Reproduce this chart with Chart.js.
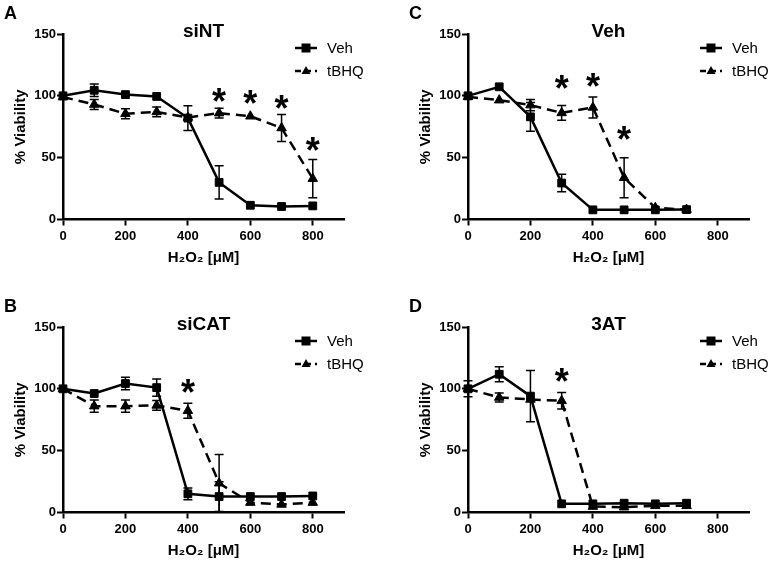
<!DOCTYPE html>
<html>
<head>
<meta charset="utf-8">
<script src="https://cdn.jsdelivr.net/npm/chart.js@4.4.0/dist/chart.umd.min.js"></script>
<style>
  html, body { margin: 0; padding: 0; background: #fff; overflow: hidden; }
  body { width: 771px; height: 564px; position: relative; }
  .panel { position: absolute; width: 366px; height: 282px; }
</style>
</head>
<body>
<div class="panel" style="left:0;top:0"><canvas id="chartA" width="366" height="282"></canvas></div>
<div class="panel" style="left:405px;top:0"><canvas id="chartC" width="366" height="282"></canvas></div>
<div class="panel" style="left:0;top:293px"><canvas id="chartB" width="366" height="282"></canvas></div>
<div class="panel" style="left:405px;top:293px"><canvas id="chartD" width="366" height="282"></canvas></div>
<script>
// axis ticks
const xTicks = [0, 200, 400, 600, 800];
const yTicks = [0, 50, 100, 150];

// A - siNT
const dosesA = [0, 100, 200, 300, 400, 500, 600, 700, 800];
const vehA = [100, 104.5, 101, 99.5, 82, 30, 11.5, 10.5, 11];
const vehErrA = [0, 5, 0, 0, 10, 13.5, 0, 0, 0];
const tbhqA = [99, 93, 85.5, 87, 82.5, 86, 83.5, 74, 33];
const tbhqErrA = [0, 4, 4, 4, 0, 4, 0, 11, 15.5];
const starXA = [500, 600, 700, 800];
const starYA = [101, 99, 95, 61];

// C - Veh
const dosesC = [0, 100, 200, 300, 400, 500, 600, 700];
const vehC = [100, 107.3, 83, 29.5, 7.8, 7.8, 7.8, 8];
const vehErrC = [0, 0, 11.7, 7, 0, 0, 0, 0];
const tbhqC = [99.2, 96.5, 92.5, 86.2, 90.6, 33.8, 9.5, 8];
const tbhqErrC = [0, 0, 4.5, 6, 8.5, 16.2, 0, 0];
const starXC = [300, 400, 500];
const starYC = [111.3, 112.7, 70.3];

// B - siCAT
const dosesB = [0, 100, 200, 300, 400, 500, 600, 700, 800];
const vehB = [100, 96.2, 104.3, 101, 15.1, 12.9, 12.9, 12.9, 13.4];
const vehErrB = [0, 0, 5, 7, 4.7, 12, 0, 0, 0];
const tbhqB = [100, 86, 86, 86.6, 82.3, 23.7, 8, 6.5, 8];
const tbhqErrB = [0, 5, 5, 4, 6, 23.3, 0, 0, 0];
const starXB = [400];
const starYB = [102];

// D - 3AT
const dosesD = [0, 100, 200, 300, 400, 500, 600, 700];
const vehD = [100, 111.8, 94.1, 7, 7, 7.5, 7, 7.5];
const vehErrD = [6.5, 6, 20.8, 0, 0, 0, 0, 0];
const tbhqD = [100, 93, 91.4, 90.3, 4.8, 4.3, 5.4, 5.4];
const tbhqErrD = [0, 3.7, 0, 6.7, 0, 0, 0, 0];
const starXD = [300];
const starYD = [111];

Chart.defaults.font.family = '"Liberation Sans", Arial, sans-serif';
Chart.defaults.color = '#000';

// error bars, from dataset.errors
const errorBars = {
  id: 'errorBars',
  afterDatasetsDraw(chart) {
    const ctx = chart.ctx, ys = chart.scales.y, xs = chart.scales.x;
    ctx.save();
    ctx.strokeStyle = '#000';
    ctx.lineWidth = 1.5;
    chart.data.datasets.forEach((ds) => {
      ds.data.forEach((p, i) => {
        const e = ds.errors[i];
        if (!e) return;
        const x = xs.getPixelForValue(p.x);
        const y1 = ys.getPixelForValue(p.y + e);
        const y2 = ys.getPixelForValue(p.y - e);
        ctx.beginPath();
        ctx.moveTo(x, y1); ctx.lineTo(x, y2);
        ctx.moveTo(x - 4.5, y1); ctx.lineTo(x + 4.5, y1);
        ctx.moveTo(x - 4.5, y2); ctx.lineTo(x + 4.5, y2);
        ctx.stroke();
      });
    });
    ctx.restore();
  }
};

// panel letter, title, stars, legend
const decor = {
  id: 'decor',
  afterDraw(chart, args, opts) {
    const ctx = chart.ctx, a = chart.chartArea;
    const xs = chart.scales.x, ys = chart.scales.y;
    ctx.save();
    ctx.fillStyle = '#000';
    ctx.strokeStyle = '#000';

    ctx.font = 'bold 18px "Liberation Sans", Arial, sans-serif';
    ctx.textAlign = 'left';
    ctx.textBaseline = 'alphabetic';
    ctx.fillText(opts.letter, 4, 19);

    ctx.font = 'bold 19px "Liberation Sans", Arial, sans-serif';
    ctx.textAlign = 'center';
    ctx.fillText(opts.title, (a.left + a.right) / 2, a.top + 3);

    // stars
    ctx.font = 'bold 36px "Liberation Sans", Arial, sans-serif';
    const m = ctx.measureText('*');
    const off = (m.actualBoundingBoxAscent - m.actualBoundingBoxDescent) / 2;
    opts.starX.forEach((sx, i) => {
      ctx.fillText('*', xs.getPixelForValue(sx), ys.getPixelForValue(opts.starY[i]) + off);
    });

    // legend
    ctx.font = '15px "Liberation Sans", Arial, sans-serif';
    ctx.textAlign = 'left';
    ctx.textBaseline = 'middle';
    chart.data.datasets.forEach((ds, i) => {
      const y = a.top + 14 + i * 23;
      const x0 = a.right - 49, x1 = a.right - 27, cx = (x0 + x1) / 2;
      ctx.lineWidth = 2.5;
      ctx.setLineDash(ds.borderDash ? [6, 4] : []);
      ctx.beginPath();
      ctx.moveTo(x0, y); ctx.lineTo(x1, y);
      ctx.stroke();
      ctx.setLineDash([]);
      ctx.beginPath();
      if (ds.pointStyle === 'rect') {
        ctx.rect(cx - 4.5, y - 4.5, 9, 9);
      } else {
        ctx.moveTo(cx, y - 5);
        ctx.lineTo(cx + 4.5, y + 3);
        ctx.lineTo(cx - 4.5, y + 3);
        ctx.closePath();
      }
      ctx.fill();
      ctx.fillText(ds.label, a.right - 17, y + 1);
    });
    ctx.restore();
  }
};

function makeData(doses, veh, vehErr, tbhq, tbhqErr) {
  return {
    datasets: [
      {
        label: 'Veh',
        data: doses.map((d, i) => ({x: d, y: veh[i]})),
        errors: vehErr,
        borderColor: '#000', backgroundColor: '#000',
        borderWidth: 2.5,
        pointStyle: 'rect', pointRadius: 5.5, pointBorderWidth: 1,
        tension: 0, clip: false
      },
      {
        label: 'tBHQ',
        data: doses.map((d, i) => ({x: d, y: tbhq[i]})),
        errors: tbhqErr,
        borderColor: '#000', backgroundColor: '#000',
        borderWidth: 2.5, borderDash: [10, 6],
        pointStyle: 'triangle', pointRadius: 5.5, pointBorderWidth: 1,
        tension: 0, clip: false
      }
    ]
  };
}

function makeChart(id, data, letter, title, starX, starY) {
  return new Chart(document.getElementById(id), {
    type: 'line',
    data: data,
    plugins: [errorBars, decor],
    options: {
      responsive: false,
      animation: false,
      events: [],
      layout: {padding: {top: 34, right: 22, left: 0, bottom: 0}},
      plugins: {
        legend: {display: false},
        tooltip: {enabled: false},
        decor: {letter: letter, title: title, starX: starX, starY: starY}
      },
      scales: {
        x: {
          type: 'linear', min: 0, max: 900,
          afterBuildTicks: (s) => { s.ticks = xTicks.map(v => ({value: v})); },
          afterFit: (s) => { s.height = 282 - 219.5; },
          grid: {drawOnChartArea: false, tickLength: 6, tickWidth: 2, tickColor: '#000'},
          border: {color: '#000', width: 2.5},
          ticks: {color: '#000', font: {size: 13, weight: 'bold'}, padding: 3, maxRotation: 0},
          title: {display: true, text: 'H₂O₂ [μM]', color: '#000',
                  font: {size: 15, weight: 'bold'}, padding: {top: 0, bottom: 15}}
        },
        y: {
          min: 0, max: 150,
          afterBuildTicks: (s) => { s.ticks = yTicks.map(v => ({value: v})); },
          afterFit: (s) => { s.width = 63; },
          grid: {drawOnChartArea: false, tickLength: 6, tickWidth: 2, tickColor: '#000'},
          border: {color: '#000', width: 2.5},
          ticks: {color: '#000', font: {size: 13, weight: 'bold'}, padding: 1},
          title: {display: true, text: '% Viability', color: '#000',
                  font: {size: 15, weight: 'bold'}, padding: {top: 12, bottom: 0}}
        }
      }
    }
  });
}

makeChart('chartA', makeData(dosesA, vehA, vehErrA, tbhqA, tbhqErrA), 'A', 'siNT', starXA, starYA);
makeChart('chartC', makeData(dosesC, vehC, vehErrC, tbhqC, tbhqErrC), 'C', 'Veh', starXC, starYC);
makeChart('chartB', makeData(dosesB, vehB, vehErrB, tbhqB, tbhqErrB), 'B', 'siCAT', starXB, starYB);
makeChart('chartD', makeData(dosesD, vehD, vehErrD, tbhqD, tbhqErrD), 'D', '3AT', starXD, starYD);
</script>
</body>
</html>
